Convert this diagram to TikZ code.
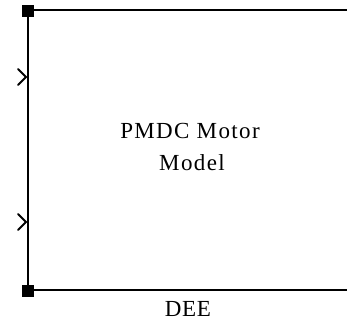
\documentclass[tikz,border=0pt]{standalone}
\usepackage{fontspec}
\setmainfont{Liberation Serif}[LetterSpace=6]
\newfontfamily\deefont{Liberation Serif}[LetterSpace=3]
\begin{document}
\begin{tikzpicture}[x=1pt,y=-1pt,
  port/.style={fill=black,draw=none,minimum size=12pt,inner sep=0pt,outer sep=0pt},
  edge/.style={line width=2pt},
  side/.style={line width=1.2pt},
  chev/.style={line width=1.9pt,line cap=round,line join=miter},
  lbl/.style={inner sep=0pt,anchor=base,font=\fontsize{23}{23}\selectfont}]
\useasboundingbox (0,0) rectangle (347,320);
\coordinate (tr) at (347,10);
\coordinate (br) at (347,290);
\coordinate (tl) at (28,10);
\coordinate (bl) at (28,290);
\draw[edge] (tl) -- (tr);
\draw[edge] (bl) -- (br);
\draw[side] (tl) -- (bl);
\node[port] (p1) at (28,11) {};
\node[port] (p2) at (28,291) {};
\coordinate (c1) at (26,77);
\coordinate (c2) at (26,222);
\draw[chev] (18,69) -- (c1) -- (18,85);
\draw[chev] (18,214) -- (c2) -- (18,230);
\node[lbl] (t1) at (190,139) {PMDC Motor};
\node[lbl] (t2) at (192,171) {Model};
\node[inner sep=0pt,anchor=base,font=\deefont\fontsize{23}{23}\selectfont] (dee) at (188,316.5) {DEE};
\end{tikzpicture}
\end{document}
